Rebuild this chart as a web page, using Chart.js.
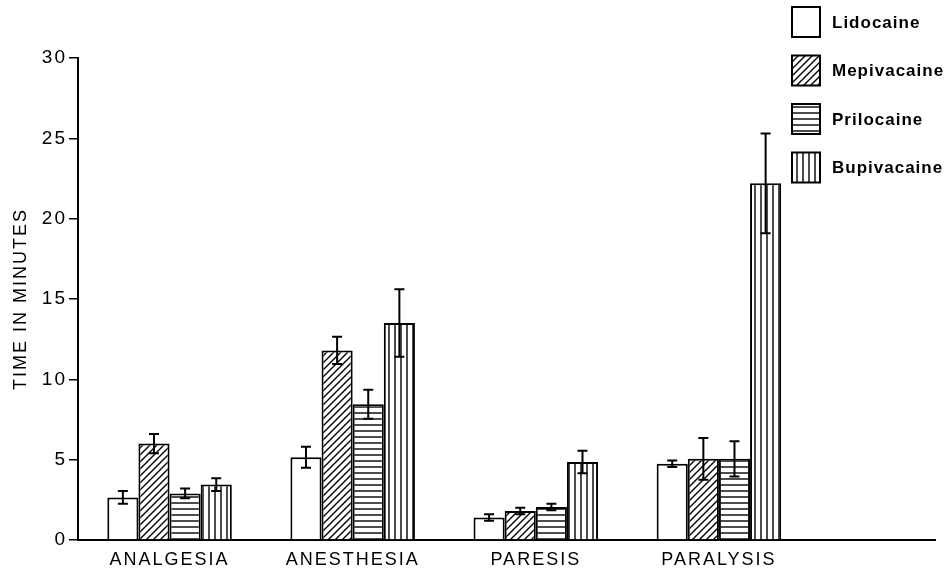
<!DOCTYPE html>
<html>
<head>
<meta charset="utf-8">
<title>Time in minutes by local anesthetic</title>
<script src="https://cdn.jsdelivr.net/npm/chart.js@4.4.1/dist/chart.umd.min.js"></script>
<style>
  html, body { margin: 0; padding: 0; background: #fff; }
  canvas { display: block; }
</style>
</head>
<body>
<canvas id="chart" width="949" height="574"></canvas>
<script>
// block phases (x categories)
const categories = ['ANALGESIA', 'ANESTHESIA', 'PARESIS', 'PARALYSIS'];

// mean onset time in minutes, with +/- error
const lidocaine      = [2.65, 5.15, 1.4, 4.75];
const lidocaineErr   = [0.4, 0.65, 0.2, 0.2];
const mepivacaine    = [6.0, 11.8, 1.8, 5.05];
const mepivacaineErr = [0.6, 0.85, 0.2, 1.3];
const prilocaine     = [2.9, 8.45, 2.05, 5.05];
const prilocaineErr  = [0.3, 0.9, 0.2, 1.1];
const bupivacaine    = [3.45, 13.5, 4.85, 22.2];
const bupivacaineErr = [0.4, 2.1, 0.7, 3.1];

const yTicks = { min: 0, max: 30, step: 5 };

// small tiled fills for the hatched bars
function hatch(kind) {
  const size = kind === 'diagonal' ? 7 : 6;
  const c = document.createElement('canvas');
  c.width = c.height = size;
  const g = c.getContext('2d');
  g.fillStyle = '#fff';
  g.fillRect(0, 0, size, size);
  g.strokeStyle = '#000';
  g.lineWidth = 1.4;
  g.beginPath();
  if (kind === 'horizontal') {
    g.moveTo(0, size - 1); g.lineTo(size, size - 1);
  } else if (kind === 'vertical') {
    g.moveTo(size - 1, 0); g.lineTo(size - 1, size);
  } else if (kind === 'diagonal') {
    g.moveTo(-1, size + 1); g.lineTo(size + 1, -1);
    g.moveTo(-1, 1); g.lineTo(1, -1);
    g.moveTo(size - 1, size + 1); g.lineTo(size + 1, size - 1);
  }
  g.stroke();
  const ctx = document.getElementById('chart').getContext('2d');
  return ctx.createPattern(c, 'repeat');
}

const toPoints = arr => arr.map((v, i) => ({ x: i + 1, y: v }));

function series(label, values, errors, fill) {
  return {
    label,
    data: toPoints(values),
    errors,
    backgroundColor: fill,
    borderColor: '#000',
    borderWidth: 2,
    borderSkipped: 'bottom'
  };
}

// +/- error whiskers with caps
const errorBars = {
  id: 'errorBars',
  afterDatasetsDraw(chart, args, opts) {
    const { ctx, scales: { y } } = chart;
    ctx.save();
    ctx.strokeStyle = '#000';
    ctx.lineWidth = opts.lineWidth;
    chart.data.datasets.forEach((ds, di) => {
      chart.getDatasetMeta(di).data.forEach((bar, i) => {
        const v = ds.data[i].y;
        const e = ds.errors[i];
        const top = y.getPixelForValue(v + e);
        const bottom = y.getPixelForValue(v - e);
        const half = opts.capWidth / 2;
        ctx.beginPath();
        ctx.moveTo(bar.x, top); ctx.lineTo(bar.x, bottom);
        ctx.moveTo(bar.x - half, top); ctx.lineTo(bar.x + half, top);
        ctx.moveTo(bar.x - half, bottom); ctx.lineTo(bar.x + half, bottom);
        ctx.stroke();
      });
    });
    ctx.restore();
  }
};

// stacked key in the top right corner
const sideLegend = {
  id: 'sideLegend',
  afterDraw(chart, args, opts) {
    const ctx = chart.ctx;
    ctx.save();
    ctx.font = opts.font;
    ctx.letterSpacing = opts.letterSpacing;
    ctx.textBaseline = 'middle';
    chart.data.datasets.forEach((ds, i) => {
      const cy = opts.top + i * opts.rowGap;
      ctx.fillStyle = ds.backgroundColor;
      ctx.fillRect(opts.left, cy - opts.boxH / 2, opts.boxW, opts.boxH);
      ctx.lineWidth = 2;
      ctx.strokeStyle = '#000';
      ctx.strokeRect(opts.left, cy - opts.boxH / 2, opts.boxW, opts.boxH);
      ctx.fillStyle = '#000';
      ctx.fillText(ds.label, opts.left + opts.boxW + opts.gap, cy + 1);
    });
    ctx.restore();
  }
};

// spaced-out lettering for the axis text
const spacedText = {
  id: 'spacedText',
  beforeLayout(chart) { chart.ctx.letterSpacing = '2px'; },
  beforeDraw(chart) { chart.ctx.letterSpacing = '2px'; }
};

Chart.defaults.font.family = '"Liberation Sans", Arial, sans-serif';
Chart.defaults.color = '#000';

new Chart(document.getElementById('chart'), {
  type: 'bar',
  data: {
    datasets: [
      series('Lidocaine', lidocaine, lidocaineErr, '#fff'),
      series('Mepivacaine', mepivacaine, mepivacaineErr, hatch('diagonal')),
      series('Prilocaine', prilocaine, prilocaineErr, hatch('horizontal')),
      series('Bupivacaine', bupivacaine, bupivacaineErr, hatch('vertical'))
    ]
  },
  options: {
    responsive: false,
    animation: false,
    layout: { padding: { top: 58, right: 14, left: 0, bottom: 0 } },
    datasets: {
      bar: { categoryPercentage: 0.68, barPercentage: 1.0 }
    },
    plugins: {
      legend: { display: false },
      tooltip: { enabled: false },
      errorBars: { lineWidth: 2, capWidth: 10 },
      sideLegend: {
        left: 792, top: 22, rowGap: 48.5, boxW: 28, boxH: 30, gap: 12,
        font: 'bold 17px "Liberation Sans", Arial, sans-serif',
        letterSpacing: '1px'
      }
    },
    scales: {
      x: {
        type: 'linear',
        offset: false,
        min: 0.5,
        max: 5.18,
        afterBuildTicks: scale => {
          scale.ticks = categories.map((c, i) => ({ value: i + 1 }));
        },
        afterFit: scale => { scale.height = 34; },
        ticks: {
          callback: v => categories[v - 1] || '',
          font: { size: 18 },
          color: '#000',
          padding: 9,
          maxRotation: 0,
          autoSkip: false
        },
        grid: { display: false, drawTicks: false },
        border: { display: true, color: '#000', width: 2 }
      },
      y: {
        min: yTicks.min,
        max: yTicks.max,
        afterFit: scale => { scale.width = 78; },
        ticks: {
          stepSize: yTicks.step,
          font: { size: 19 },
          color: '#000',
          padding: 2
        },
        grid: {
          display: true,
          drawOnChartArea: false,
          drawTicks: true,
          tickLength: 9,
          color: '#000',
          lineWidth: 1.5
        },
        border: { display: true, color: '#000', width: 2 },
        title: {
          display: true,
          text: 'TIME IN MINUTES',
          font: { size: 18 },
          color: '#000',
          padding: { top: 10, bottom: 0 }
        }
      }
    }
  },
  plugins: [spacedText, errorBars, sideLegend]
});
</script>
</body>
</html>
